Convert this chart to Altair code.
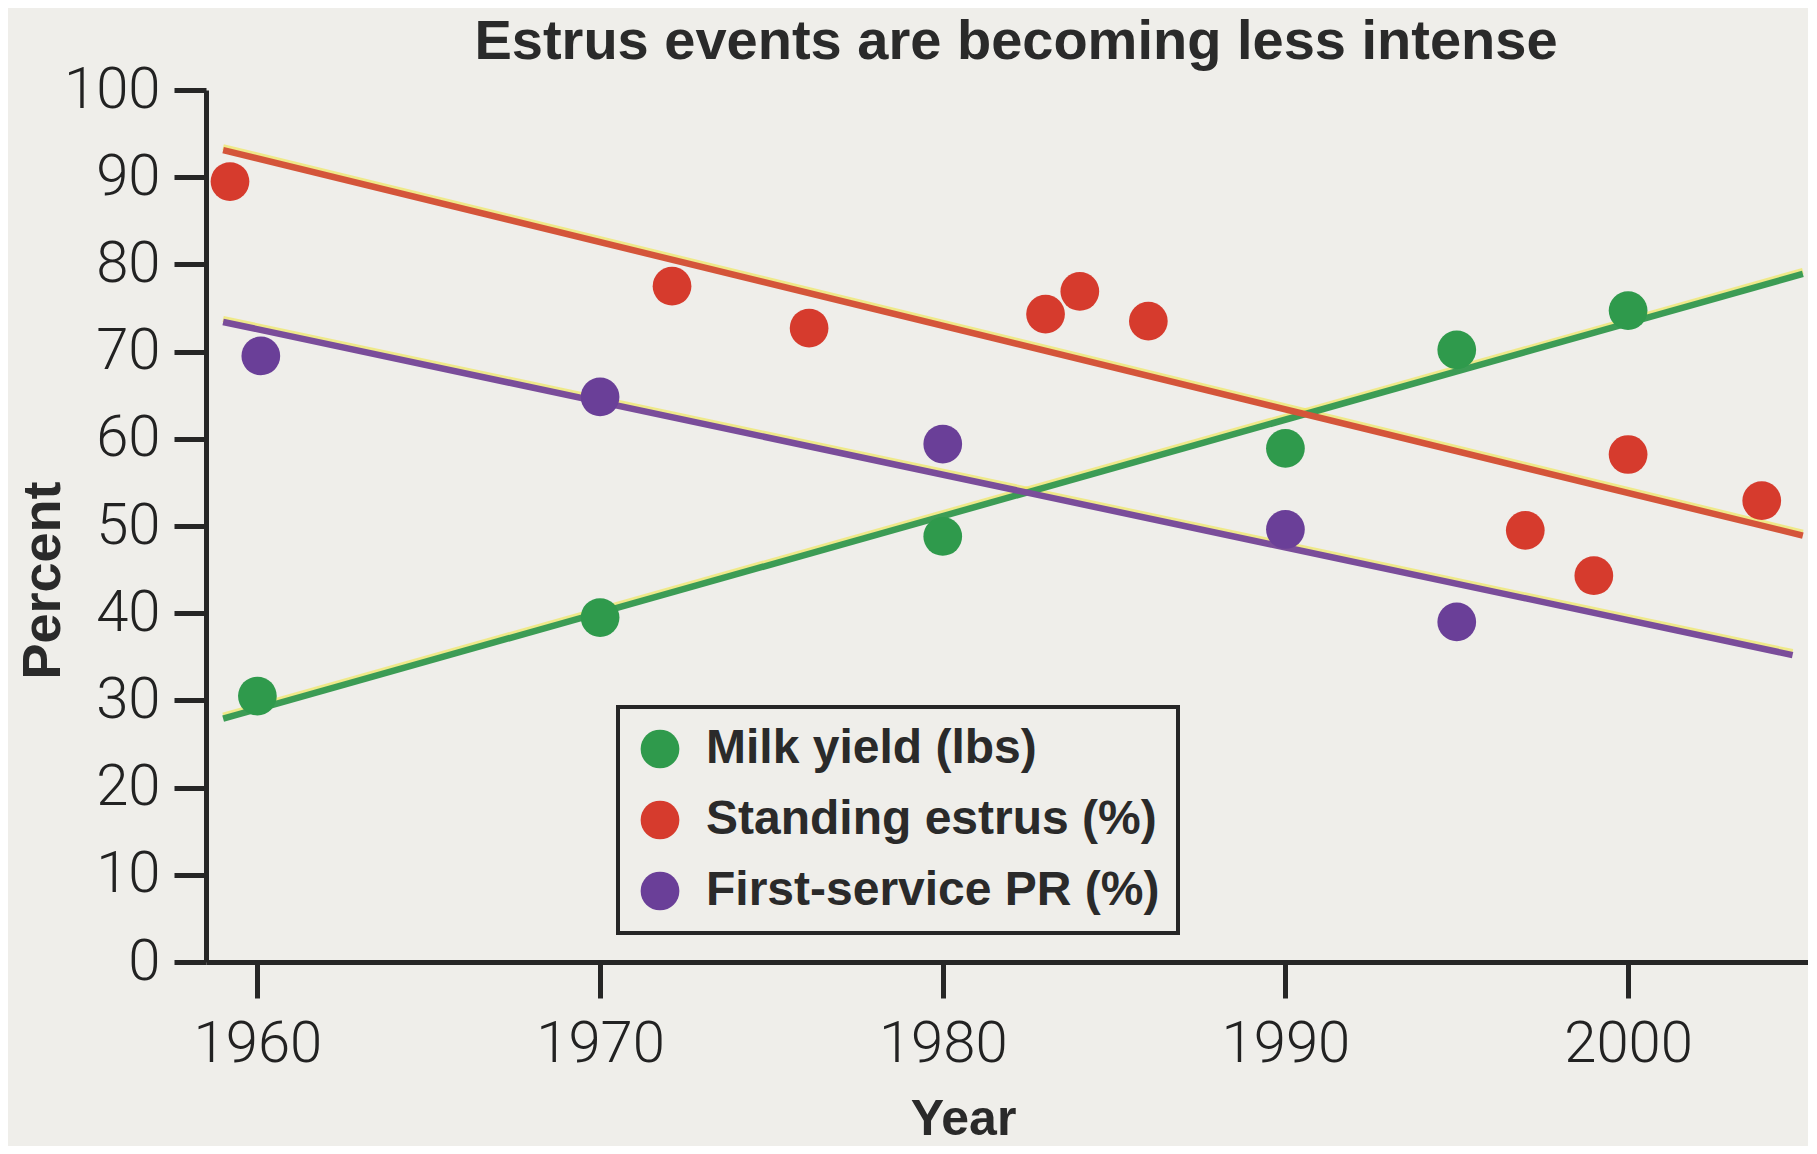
import altair as alt
import pandas as pd

# ---- data ----
series_names = ["Milk yield (lbs)", "Standing estrus (%)", "First-service PR (%)"]

milk_years = [1960, 1970, 1980, 1990, 1995, 2000]
milk_vals = [30.5, 39.5, 48.8, 58.9, 70.2, 74.7]

estrus_years = [1959.2, 1972.1, 1976.1, 1983.0, 1984.0, 1986.0, 1997.0, 1999.0, 2000.0, 2003.9]
estrus_vals = [89.5, 77.5, 72.7, 74.3, 76.9, 73.5, 49.5, 44.3, 58.2, 52.9]

pr_years = [1960.1, 1970, 1980, 1990, 1995]
pr_vals = [69.5, 64.8, 59.4, 49.6, 39.0]

# trend lines (start / end)
milk_fit_years = [1959.0, 2005.1]
milk_fit_vals = [27.9, 78.9]
estrus_fit_years = [1959.0, 2005.1]
estrus_fit_vals = [93.1, 48.9]
pr_fit_years = [1959.0, 2004.8]
pr_fit_vals = [73.4, 35.2]

x_ticks = [1960, 1970, 1980, 1990, 2000]
y_ticks = [0, 10, 20, 30, 40, 50, 60, 70, 80, 90, 100]

dot_colors = ["#2f9a4c", "#d63b2d", "#6a3f98"]
line_colors = ["#3c9c55", "#d4553a", "#7a4d9a"]

# ---- build tables ----
pts = pd.concat([
    pd.DataFrame({"year": milk_years, "value": milk_vals, "series": series_names[0]}),
    pd.DataFrame({"year": estrus_years, "value": estrus_vals, "series": series_names[1]}),
    pd.DataFrame({"year": pr_years, "value": pr_vals, "series": series_names[2]}),
])
fits = pd.concat([
    pd.DataFrame({"year": milk_fit_years, "value": milk_fit_vals, "trend": series_names[0]}),
    pd.DataFrame({"year": estrus_fit_years, "value": estrus_fit_vals, "trend": series_names[1]}),
    pd.DataFrame({"year": pr_fit_years, "value": pr_fit_vals, "trend": series_names[2]}),
])

TXT = "#2a2a2a"
BOLD = "Liberation Sans, Arial, sans-serif"

x_enc = alt.X(
    "year:Q",
    scale=alt.Scale(domain=[1958.5, 2005.25], nice=False, zero=False),
    axis=alt.Axis(
        values=x_ticks, format="d", grid=False, title="Year",
        titleX=757, titleY=157, titleBaseline="middle", titleAnchor="start",
        titleAlign="center", titleFont=BOLD, titleFontSize=50,
        titleFontWeight="bold", titleColor=TXT,
        labelPadding=17, tickSize=36,
    ),
)
y_enc = alt.Y(
    "value:Q",
    scale=alt.Scale(domain=[0, 100], nice=False),
    axis=alt.Axis(
        values=y_ticks, grid=False, title="Percent",
        titleX=-163, titleY=490, titleAngle=-90, titleBaseline="middle",
        titleAlign="center", titleAnchor="start",
        titleFont=BOLD, titleFontSize=54,
        titleFontWeight="bold", titleColor=TXT,
        labelPadding=14, tickSize=32,
    ),
)

halo = alt.Chart(fits).mark_line(strokeWidth=6, color="#efe760", opacity=0.7, yOffset=-3).encode(
    x=x_enc, y=y_enc, detail="trend:N"
)

lines = alt.Chart(fits).mark_line(strokeWidth=6.5).encode(
    x=x_enc, y=y_enc,
    color=alt.Color("trend:N", scale=alt.Scale(domain=series_names, range=line_colors), legend=None),
)

dots = alt.Chart(pts).mark_circle(size=1500, opacity=1).encode(
    x=x_enc, y=y_enc,
    color=alt.Color(
        "series:N",
        scale=alt.Scale(domain=series_names, range=dot_colors),
        legend=alt.Legend(
            title=None, orient="none", legendX=412, legendY=617,
            symbolType="circle", symbolSize=1500, symbolStrokeWidth=0,
            labelFont=BOLD, labelFontSize=48, labelFontWeight="bold",
            labelColor=TXT, labelOffset=22, labelLimit=800,
            padding=18, rowPadding=23, strokeColor="#262626",
        ),
    ),
)

chart = (
    alt.layer(halo, lines, dots)
    .resolve_scale(color="independent")
    .properties(
        width=1602, height=872,
        padding={"left": 198, "top": 82, "right": 0, "bottom": 184},
        autosize=alt.AutoSizeParams(type="none"),
        background="#efeeea",
        title=alt.TitleParams(
            "Estrus events are becoming less intense",
            font=BOLD, fontSize=56, fontWeight="bold",
            color=TXT, anchor="middle", baseline="bottom", offset=-66, dx=9,
        ),
    )
    .configure_view(stroke=None)
    .configure_axis(
        domainColor="#262626", domainWidth=5, tickColor="#262626", tickWidth=5,
        labelFont="Roboto, Liberation Sans, sans-serif", labelFontWeight=300,
        labelFontSize=58, labelColor="#222222",
    )
    .configure_legend(strokeWidth=4)
)

chart.save("out.html", embed_options={"renderer": "svg", "actions": False})
